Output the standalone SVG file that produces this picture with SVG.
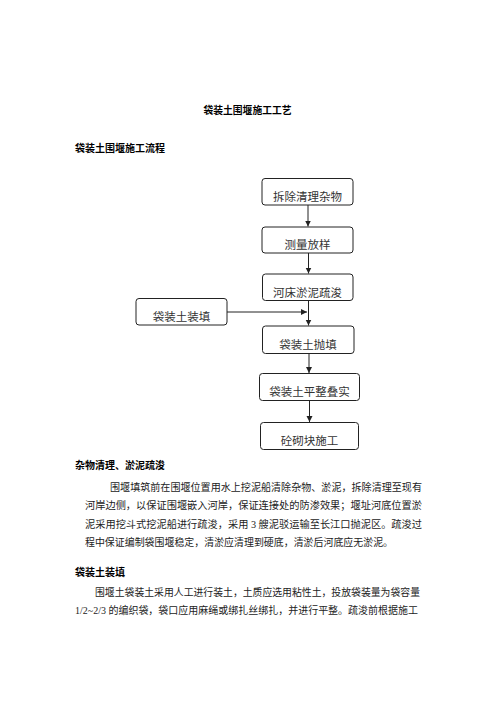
<svg xmlns="http://www.w3.org/2000/svg" width="496" height="702" viewBox="0 0 496 702">
<style>
.h{font-family:"Noto Sans CJK SC","Noto Sans CJK JP",sans-serif;font-weight:bold;font-size:10px;fill:#000}
.p{font-family:"Liberation Serif","Noto Sans CJK SC",serif;font-size:10px;fill:#222}
.box{fill:#fff;stroke:#222;stroke-width:1}
.bt{font-family:"Noto Sans CJK SC",sans-serif;font-size:11.5px;fill:#333;text-anchor:middle}
.c{stroke:#222;stroke-width:1;fill:none}
</style>
<defs>
<marker id="ah" markerWidth="7" markerHeight="7" refX="6" refY="3.5" orient="auto" markerUnits="userSpaceOnUse">
<path d="M0,0.5 L6,3.5 L0,6.5 Z" fill="#222"/>
</marker>
</defs>
<rect width="496" height="702" fill="#fff"/>
<text class="h" x="203.5" y="114" textLength="88" lengthAdjust="spacingAndGlyphs">袋装土围堰施工工艺</text>
<text class="h" x="75" y="152" textLength="90" lengthAdjust="spacingAndGlyphs">袋装土围堰施工流程</text>

<g id="connectors">
<line class="c" x1="308" y1="205" x2="308" y2="226.5" marker-end="url(#ah)"/>
<line class="c" x1="308.5" y1="253" x2="308.5" y2="273.5" marker-end="url(#ah)"/>
<line class="c" x1="308.5" y1="300.5" x2="308.5" y2="325.5" marker-end="url(#ah)"/>
<line class="c" x1="227" y1="312" x2="307" y2="312" marker-end="url(#ah)"/>
<line class="c" x1="309" y1="353.5" x2="309" y2="373" marker-end="url(#ah)"/>
<line class="c" x1="309.5" y1="400.5" x2="309.5" y2="422" marker-end="url(#ah)"/>
</g>

<g id="n1"><rect class="box" x="262" y="178.5" width="91" height="26.5" rx="3"/><text class="bt" x="307.5" y="201">拆除清理杂物</text></g>
<g id="n2"><rect class="box" x="262" y="227" width="91" height="26" rx="3"/><text class="bt" x="307.5" y="249">测量放样</text></g>
<g id="n3"><rect class="box" x="262.5" y="274" width="90.5" height="26.5" rx="3"/><text class="bt" x="307.5" y="296.5">河床淤泥疏浚</text></g>
<g id="n7"><rect class="box" x="136" y="298.5" width="91" height="26.5" rx="3"/><text class="bt" x="181.5" y="321">袋装土装填</text></g>
<g id="n4"><rect class="box" x="262.5" y="326" width="91.5" height="27.5" rx="3"/><text class="bt" x="308" y="348.5">袋装土抛填</text></g>
<g id="n5"><rect class="box" x="259.5" y="373.5" width="100" height="27" rx="3"/><text class="bt" x="309.5" y="396">袋装土平整叠实</text></g>
<g id="n6"><rect class="box" x="260.5" y="422.5" width="98" height="27" rx="3"/><text class="bt" x="309.5" y="445">砼砌块施工</text></g>

<text class="h" x="75" y="469" textLength="90" lengthAdjust="spacingAndGlyphs">杂物清理、淤泥疏浚</text>
<text class="p" x="110" y="490.5" textLength="312" lengthAdjust="spacingAndGlyphs">围堰填筑前在围堰位置用水上挖泥船清除杂物、淤泥，拆除清理至现有</text>
<text class="p" x="85" y="509" textLength="337" lengthAdjust="spacingAndGlyphs">河岸边侧，以保证围堰嵌入河岸，保证连接处的防渗效果；堰址河底位置淤</text>
<text class="p" x="85" y="527.5" textLength="337" lengthAdjust="spacingAndGlyphs">泥采用挖斗式挖泥船进行疏浚，采用 3 艘泥驳运输至长江口抛泥区。疏浚过</text>
<text class="p" x="85" y="546" textLength="308" lengthAdjust="spacingAndGlyphs">程中保证编制袋围堰稳定，清淤应清理到硬底，清淤后河底应无淤泥。</text>

<text class="h" x="75" y="576" textLength="50" lengthAdjust="spacingAndGlyphs">袋装土装填</text>
<text class="p" x="95" y="595.5" textLength="325" lengthAdjust="spacingAndGlyphs">围堰土袋装土采用人工进行装土，土质应选用粘性土，投放袋装量为袋容量</text>
<text class="p" x="75" y="614" textLength="343" lengthAdjust="spacingAndGlyphs">1/2~2/3 的编织袋，袋口应用麻绳或绑扎丝绑扎，并进行平整。疏浚前根据施工</text>
</svg>
